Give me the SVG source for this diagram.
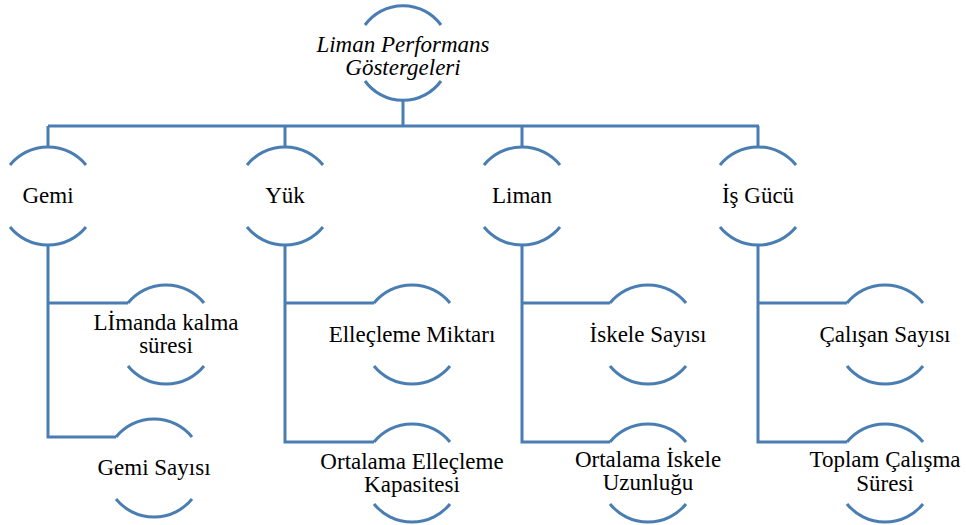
<svg xmlns="http://www.w3.org/2000/svg" width="966" height="525" viewBox="0 0 966 525">
<style>
.arc{fill:none;stroke:#4a7eb3;stroke-width:3}
.con{fill:none;stroke:#4a7eb3;stroke-width:3}
text{font-family:'Liberation Serif','Times New Roman',serif;font-size:23px;fill:#000;text-anchor:middle}
.it{font-style:italic}
</style>
<rect width="966" height="525" fill="#fff"/>
<g id="connectors">
<path class="con" d="M403 100V126M48 126H759M48 126V147M285 126V147M522 126V147M758 126V147"/>
<path class="con" d="M48 245V437H116M48 303H128"/>
<path class="con" d="M285 245V442H374M285 303H374"/>
<path class="con" d="M522 245V442H610M522 303H610"/>
<path class="con" d="M758 245V442H847M758 303H847"/>
</g>
<g id="root">
<path class="arc" d="M365 25A47 47 0 0 1 441 25M365 81A47 47 0 0 0 441 81"/>
<text class="it" x="403" y="52">Liman Performans</text>
<text class="it" x="403" y="75">Göstergeleri</text>
</g>
<g id="gemi">
<path class="arc" d="M10 165A49 49 0 0 1 86 165M10 227A49 49 0 0 0 86 227"/>
<text x="48" y="203">Gemi</text>
</g>
<g id="yuk">
<path class="arc" d="M247 165A49 49 0 0 1 323 165M247 227A49 49 0 0 0 323 227"/>
<text x="285" y="203">Yük</text>
</g>
<g id="liman">
<path class="arc" d="M484 165A49 49 0 0 1 560 165M484 227A49 49 0 0 0 560 227"/>
<text x="522" y="203">Liman</text>
</g>
<g id="isgucu">
<path class="arc" d="M720 165A49 49 0 0 1 796 165M720 227A49 49 0 0 0 796 227"/>
<text x="758" y="203">İş Gücü</text>
</g>
<g id="limanda-kalma">
<path class="arc" d="M128 303A49 49 0 0 1 204 303M128 366A49 49 0 0 0 204 366"/>
<text x="166" y="330">Lİmanda kalma</text>
<text x="166" y="353">süresi</text>
</g>
<g id="gemi-sayisi">
<path class="arc" d="M116 437A49 49 0 0 1 192 437M116 499A49 49 0 0 0 192 499"/>
<text x="154" y="475">Gemi Sayısı</text>
</g>
<g id="ellecleme-miktari">
<path class="arc" d="M374 303A49 49 0 0 1 450 303M374 366A49 49 0 0 0 450 366"/>
<text x="412" y="342">Elleçleme Miktarı</text>
</g>
<g id="ortalama-ellecleme">
<path class="arc" d="M374 442A49 49 0 0 1 450 442M374 504A49 49 0 0 0 450 504"/>
<text x="412" y="469">Ortalama Elleçleme</text>
<text x="412" y="492">Kapasitesi</text>
</g>
<g id="iskele-sayisi">
<path class="arc" d="M610 303A49 49 0 0 1 686 303M610 366A49 49 0 0 0 686 366"/>
<text x="648" y="342">İskele Sayısı</text>
</g>
<g id="ortalama-iskele">
<path class="arc" d="M610 442A49 49 0 0 1 686 442M610 504A49 49 0 0 0 686 504"/>
<text x="648" y="467">Ortalama İskele</text>
<text x="648" y="490">Uzunluğu</text>
</g>
<g id="calisan-sayisi">
<path class="arc" d="M847 303A49 49 0 0 1 923 303M847 366A49 49 0 0 0 923 366"/>
<text x="885" y="342">Çalışan Sayısı</text>
</g>
<g id="toplam-calisma">
<path class="arc" d="M847 442A49 49 0 0 1 923 442M847 504A49 49 0 0 0 923 504"/>
<text x="885" y="467">Toplam Çalışma</text>
<text x="885" y="491">Süresi</text>
</g>
</svg>
